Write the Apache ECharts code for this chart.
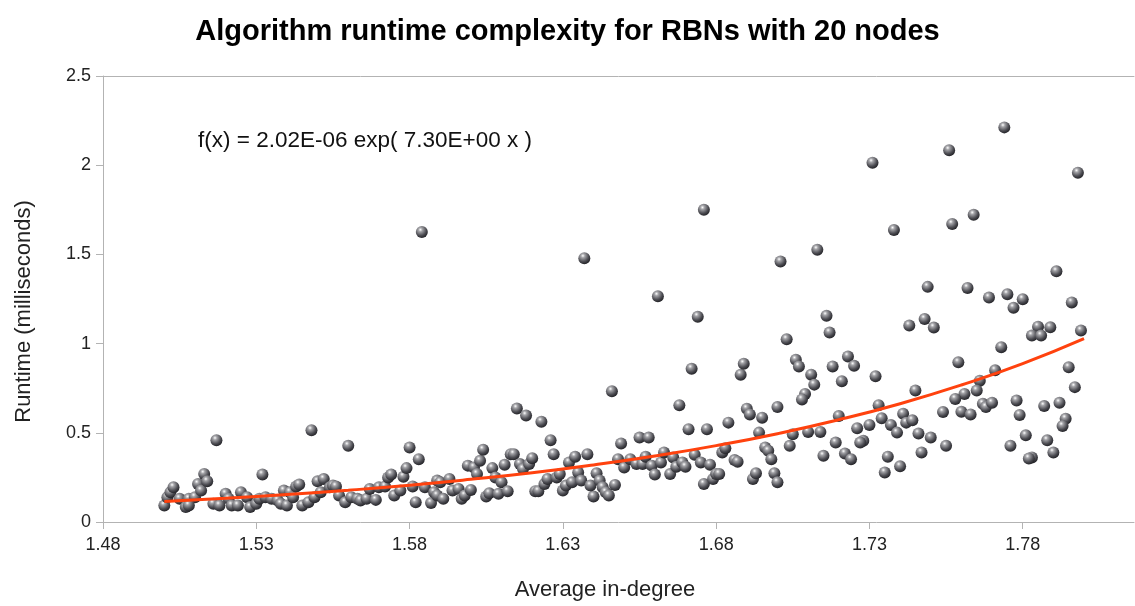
<!DOCTYPE html>
<html>
<head>
<meta charset="utf-8">
<script src="https://cdn.jsdelivr.net/npm/echarts@6/dist/echarts.min.js"></script>
<style>
html,body{margin:0;padding:0;background:#fff;}
#c{width:1135px;height:606px;}
</style>
</head>
<body>
<div id="c"></div>
<script>
// ---- data ----
const titleText = "Algorithm runtime complexity for RBNs with 20 nodes";
const xName = "Average in-degree";
const yName = "Runtime (milliseconds)";
const fitLabel = "f(x) = 2.02E-06 exp( 7.30E+00 x )";
const xTicks = [1.48, 1.53, 1.58, 1.63, 1.68, 1.73, 1.78];

const degree = [
1.500,1.501,1.502,1.503,1.505,1.507,1.508,1.510,1.508,1.511,1.512,1.513,1.514,1.517,1.516,1.518,1.520,1.521,1.522,1.524,
1.525,1.527,1.528,1.530,1.531,1.532,1.533,1.535,1.537,1.538,1.540,1.539,1.541,1.542,1.543,1.544,1.545,1.547,1.548,1.549,
1.550,1.552,1.551,1.554,1.555,1.556,1.557,1.559,1.560,1.561,1.563,1.564,1.566,1.567,1.569,1.570,1.572,1.573,1.574,1.575,
1.577,1.578,1.579,1.580,1.581,1.582,1.583,1.585,1.587,1.588,1.589,1.589,1.584,
1.637,1.590,1.593,1.591,1.594,1.596,1.597,1.598,1.600,1.599,1.601,1.602,1.603,1.604,1.605,1.606,1.607,1.608,1.609,1.610,
1.611,1.612,1.613,1.614,1.615,1.616,1.617,1.618,1.619,1.620,1.621,1.622,1.623,1.624,1.625,1.626,1.627,1.628,1.629,1.630,
1.631,1.632,1.633,1.634,1.635,1.636,1.638,1.640,1.639,1.641,1.642,1.643,1.644,1.645,1.647,1.646,1.648,1.649,1.650,1.652,
1.654,1.655,1.656,1.657,1.658,1.659,1.660,1.661,1.662,1.663,1.665,1.666,1.667,1.668,1.669,1.670,1.671,1.672,1.673,1.674,
1.675,1.676,1.677,1.678,1.679,1.680,1.681,1.682,1.683,1.684,1.686,1.687,1.688,1.689,1.690,1.691,1.692,1.693,1.694,1.695,
1.696,1.697,1.698,1.699,1.700,1.700,1.701,1.676,
1.774,1.756,1.731,1.798,1.764,1.757,1.738,1.713,1.791,1.749,1.762,1.769,1.775,1.780,1.777,1.796,1.716,1.717,1.743,1.748,
1.751,1.785,1.789,1.783,1.786,1.799,1.703,1.773,1.706,1.707,1.723,1.725,1.718,1.711,1.712,1.721,1.732,1.759,1.795,1.797,
1.771,1.766,1.765,1.761,1.758,1.760,1.763,1.754,1.745,1.709,1.708,1.733,1.741,1.742,1.744,1.734,1.737,1.739,1.720,1.730,
1.726,1.728,1.727,1.719,1.714,1.710,1.705,1.704,1.715,1.722,1.724,1.736,1.735,1.740,1.746,1.747,1.750,1.755,1.767,1.768,
1.770,1.778,1.779,1.776,1.781,1.783,1.782,1.787,1.788,1.790,1.792,1.794,1.793
];
const runtime = [
0.093,0.139,0.167,0.195,0.130,0.084,0.130,0.139,0.093,0.213,0.176,0.269,0.228,0.458,0.102,0.093,0.158,0.130,0.093,0.093,
0.167,0.139,0.084,0.102,0.130,0.266,0.139,0.130,0.121,0.102,0.093,0.176,0.167,0.139,0.199,0.210,0.093,0.111,0.514,0.139,
0.228,0.241,0.167,0.195,0.204,0.199,0.149,0.111,0.427,0.139,0.130,0.121,0.130,0.185,0.124,0.195,0.199,0.250,0.266,0.149,
0.176,0.254,0.302,0.418,0.199,0.111,0.352,0.195,0.106,0.167,0.149,0.232,1.625,
1.479,0.223,0.241,0.130,0.176,0.185,0.130,0.149,0.180,0.316,0.306,0.269,0.343,0.405,0.143,0.161,0.302,0.250,0.158,0.223,
0.321,0.173,0.380,0.380,0.636,0.325,0.297,0.597,0.325,0.358,0.173,0.173,0.562,0.213,0.241,0.458,0.380,0.250,0.269,0.176,
0.204,0.334,0.223,0.366,0.278,0.232,0.380,0.143,0.204,0.273,0.232,0.195,0.167,0.149,0.208,0.733,0.352,0.440,0.306,0.352,
0.325,0.473,0.325,0.366,0.473,0.316,0.266,1.266,0.334,0.390,0.269,0.362,0.310,0.655,0.334,0.310,0.520,0.859,0.377,1.151,
0.334,0.213,0.520,0.321,0.241,0.269,0.269,0.390,0.414,0.557,0.347,0.338,0.826,0.887,0.635,0.603,0.241,0.273,0.501,0.585,
0.418,0.399,0.352,0.273,0.223,0.644,1.460,1.750,
2.212,2.084,2.014,1.958,1.722,1.670,1.637,1.526,1.405,1.318,1.312,1.258,1.277,1.249,1.201,1.231,1.156,1.062,1.101,1.138,
1.090,1.095,1.091,1.045,1.045,1.073,1.024,0.980,0.909,0.872,0.928,0.876,0.872,0.826,0.770,0.789,0.817,0.895,0.867,0.756,
0.850,0.792,0.737,0.718,0.690,0.618,0.603,0.616,0.737,0.718,0.687,0.655,0.607,0.557,0.570,0.581,0.544,0.501,0.594,0.544,
0.525,0.455,0.445,0.445,0.505,0.505,0.492,0.427,0.371,0.384,0.352,0.366,0.278,0.312,0.496,0.390,0.473,0.427,0.663,0.644,
0.668,0.681,0.600,0.427,0.486,0.362,0.356,0.650,0.458,0.390,0.668,0.579,0.538
];

// trend curve values
const fitX = [1.50,1.52,1.54,1.56,1.58,1.60,1.62,1.64,1.66,1.68,1.70,1.72,1.74,1.76,1.78,1.80];
const fitY = [0.115,0.133,0.154,0.178,0.206,0.239,0.276,0.320,0.370,0.428,0.495,0.573,0.663,0.768,0.888,1.028];

// ---- chart ----
const points = degree.map((d, i) => [d, runtime[i]]);
const fit = fitX.map((d, i) => [d, fitY[i]]);
const FONT = "'Liberation Sans', Arial, sans-serif";
const axisGray = '#b3b3b3';

const chart = echarts.init(document.getElementById('c'), null, {renderer: 'canvas'});
chart.setOption({
  animation: false,
  backgroundColor: '#fff',
  title: {
    text: titleText, left: 'center', top: 12,
    textStyle: {fontFamily: FONT, fontSize: 29, fontWeight: 'bold', color: '#000'}
  },
  grid: {left: 103, right: 1, top: 76, bottom: 81, containLabel: false},
  xAxis: [{
    type: 'value', min: 1.48, max: 1.8163,
    name: xName, nameLocation: 'middle', nameGap: 57,
    nameTextStyle: {fontFamily: FONT, fontSize: 22, color: '#222', padding: [0, 27, 0, 0]},
    axisLine: {show: true, lineStyle: {color: axisGray, width: 1}},
    axisTick: {show: true, length: 7, lineStyle: {color: axisGray}, customValues: xTicks},
    axisLabel: {fontFamily: FONT, fontSize: 18, color: '#222', margin: 14, customValues: xTicks,
      formatter: v => v.toFixed(2)},
    splitLine: {show: false}
  }, {
    type: 'value', position: 'top', min: 1.48, max: 1.8163,
    axisLine: {show: true, onZero: false, lineStyle: {color: axisGray, width: 1}},
    axisTick: {show: false}, axisLabel: {show: false}, splitLine: {show: false}
  }],
  yAxis: {
    type: 'value', min: 0, max: 2.5, interval: 0.5,
    name: yName, nameLocation: 'middle', nameGap: 68, nameRotate: 90,
    nameTextStyle: {fontFamily: FONT, fontSize: 22, color: '#222', padding: [0, 25, 0, 0]},
    axisLine: {show: true, lineStyle: {color: axisGray, width: 1}},
    axisTick: {show: true, length: 7, lineStyle: {color: axisGray}},
    axisLabel: {fontFamily: FONT, fontSize: 18, color: '#222', margin: 12},
    splitLine: {show: false}
  },
  graphic: [{
    type: 'text', left: 198, top: 129,
    style: {text: fitLabel, font: "22.5px 'Liberation Sans', Arial, sans-serif", fill: '#111'}
  }],
  series: [{
    type: 'scatter', data: points, symbolSize: 12, z: 2,
    itemStyle: {
      opacity: 1,
      color: {
        type: 'radial', x: 0.38, y: 0.3, r: 0.75,
        colorStops: [
          {offset: 0, color: '#ffffff'},
          {offset: 0.22, color: '#a4a4a8'},
          {offset: 0.65, color: '#4c4c52'},
          {offset: 1, color: '#1c1c20'}
        ]
      }
    }
  }, {
    type: 'line', data: fit, smooth: true, showSymbol: false, z: 3,
    lineStyle: {color: '#ff420e', width: 3}
  }]
});
</script>
</body>
</html>
